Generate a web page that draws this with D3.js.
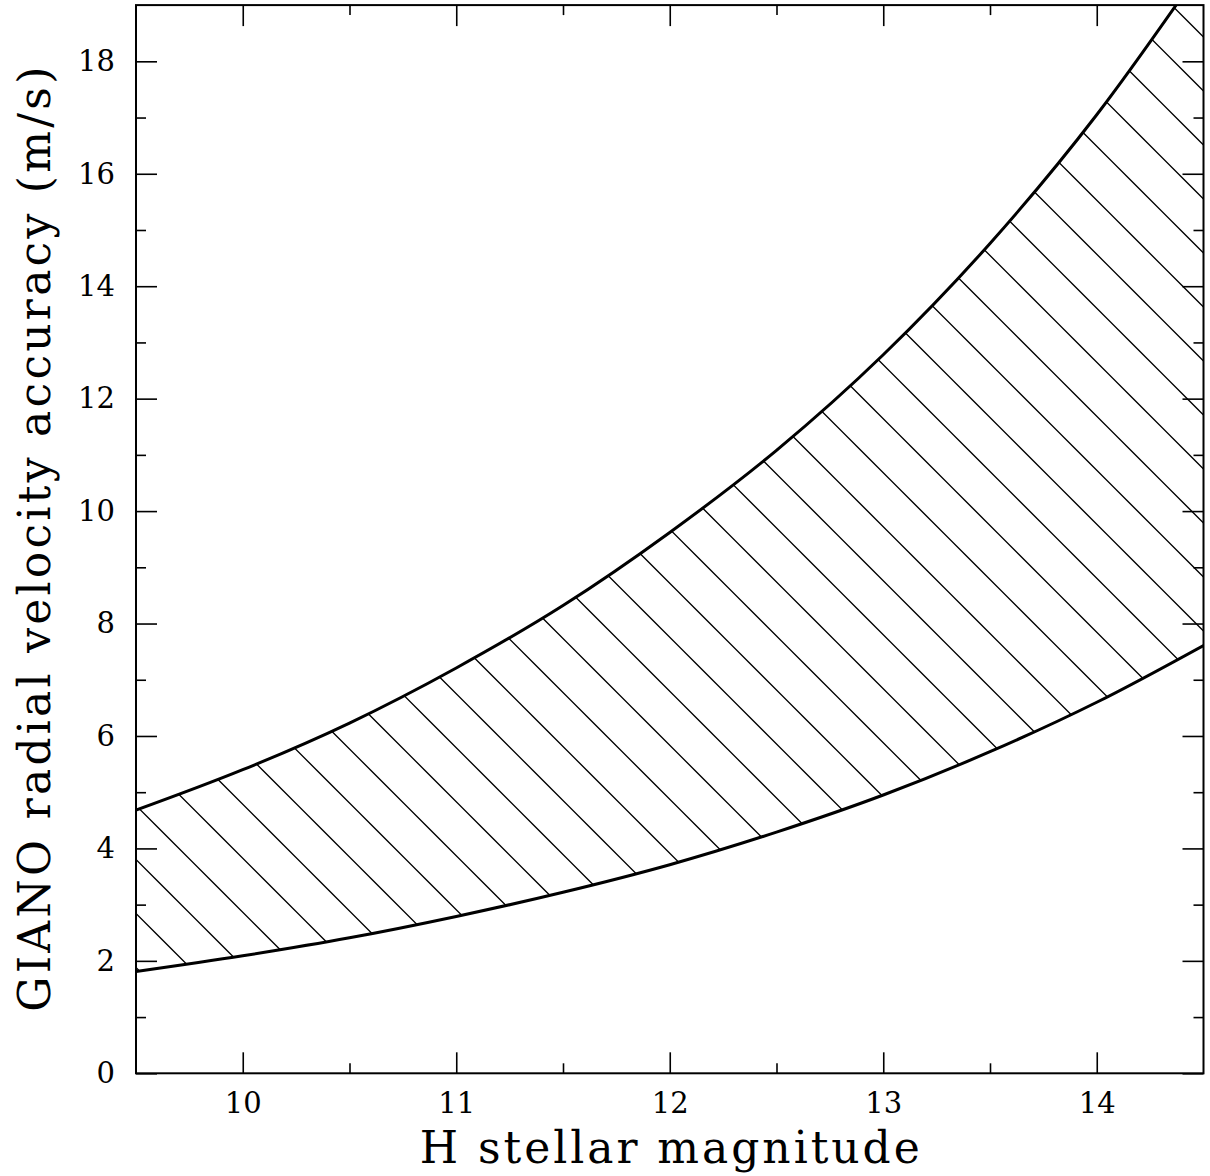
<!DOCTYPE html>
<html>
<head>
<meta charset="utf-8">
<script src="https://cdn.jsdelivr.net/npm/d3@7"></script>
<style>
  body { margin: 0; background: #fff; }
  svg { display: block; }
  text { font-family: "DejaVu Serif", serif; fill: #000; }
</style>
</head>
<body>
<svg id="vis" width="1210" height="1176"></svg>
<script>
// H magnitude sample points and the two accuracy limits (m/s)
const magnitudes = [9.5, 10, 10.5, 11, 11.5, 12, 12.5, 13, 13.5, 14, 14.5]
const upperAccuracy = [4.68, 5.40, 6.23, 7.21, 8.32, 9.62, 11.08, 12.78, 14.76, 17.05, 19.7]
const lowerAccuracy = [1.81, 2.09, 2.41, 2.79, 3.22, 3.71, 4.29, 4.95, 5.72, 6.60, 7.61]

const xMajorTicks = [10, 11, 12, 13, 14]
const xMinorTicks = [10.5, 11.5, 12.5, 13.5]
const yMajorTicks = [0, 2, 4, 6, 8, 10, 12, 14, 16, 18]
const yMinorTicks = [1, 3, 5, 7, 9, 11, 13, 15, 17]

const xTitle = 'H stellar magnitude'
const yTitle = 'GIANO radial velocity accuracy (m/s)'

const plot = {left: 136, right: 1203.5, top: 5.1, bottom: 1073.3}

const svg = d3.select('#vis')

const x = d3.scaleLinear().domain([9.5, 14.5]).range([plot.left, plot.right])
const y = d3.scaleLinear().domain([0, 19]).range([plot.bottom, plot.top])

const band = magnitudes.map((m, i) => ({m: m, lo: lowerAccuracy[i], hi: upperAccuracy[i]}))

const defs = svg.append('defs')

// clip everything to the frame
defs.append('clipPath')
    .attr('id', 'plotClip')
  .append('rect')
    .attr('x', plot.left)
    .attr('y', plot.top)
    .attr('width', plot.right - plot.left)
    .attr('height', plot.bottom - plot.top)

// 45 degree hatching, 54px apart
const hatch = defs.append('pattern')
    .attr('id', 'hatch')
    .attr('patternUnits', 'userSpaceOnUse')
    .attr('x', 0)
    .attr('y', 0)
    .attr('width', 54)
    .attr('height', 54)
hatch.append('path')
    .attr('d', 'M-6,15.5 L38.5,60 M26.5,-6 L60,27.5')
    .attr('stroke', '#000')
    .attr('stroke-width', 1.3)
    .attr('fill', 'none')

const chart = svg.append('g').attr('clip-path', 'url(#plotClip)')

const area = d3.area()
    .x(d => x(d.m))
    .y0(d => y(d.lo))
    .y1(d => y(d.hi))
    .curve(d3.curveMonotoneX)

chart.append('path')
    .datum(band)
    .attr('d', area)
    .attr('fill', 'url(#hatch)')

const upperLine = d3.line().x(d => x(d.m)).y(d => y(d.hi)).curve(d3.curveMonotoneX)
const lowerLine = d3.line().x(d => x(d.m)).y(d => y(d.lo)).curve(d3.curveMonotoneX)

chart.append('path')
    .datum(band)
    .attr('d', upperLine)
    .attr('fill', 'none')
    .attr('stroke', '#000')
    .attr('stroke-width', 3)

chart.append('path')
    .datum(band)
    .attr('d', lowerLine)
    .attr('fill', 'none')
    .attr('stroke', '#000')
    .attr('stroke-width', 3)

//axes: ticks point inwards on all four sides
function drawAxis(axis, transform, labels){
    const g = svg.append('g')
        .attr('transform', transform)
        .call(axis)
    g.select('.domain').remove()
    g.selectAll('line').attr('stroke', '#000').attr('stroke-width', 1.6)
    if(!labels){
        g.selectAll('text').remove()
    }else{
        g.selectAll('text').style('font-size', '29px').attr('fill', '#000')
    }
    return g
}

drawAxis(d3.axisBottom(x).tickValues(xMajorTicks).tickSize(-21).tickPadding(19).tickFormat(d3.format('d')),
    `translate(0,${plot.bottom})`, true)
drawAxis(d3.axisBottom(x).tickValues(xMinorTicks).tickSize(-10),
    `translate(0,${plot.bottom})`, false)
drawAxis(d3.axisTop(x).tickValues(xMajorTicks).tickSize(-21),
    `translate(0,${plot.top})`, false)
drawAxis(d3.axisTop(x).tickValues(xMinorTicks).tickSize(-10),
    `translate(0,${plot.top})`, false)

drawAxis(d3.axisLeft(y).tickValues(yMajorTicks).tickSize(-21).tickPadding(21).tickFormat(d3.format('d')),
    `translate(${plot.left},0)`, true)
drawAxis(d3.axisLeft(y).tickValues(yMinorTicks).tickSize(-10),
    `translate(${plot.left},0)`, false)
drawAxis(d3.axisRight(y).tickValues(yMajorTicks).tickSize(-21),
    `translate(${plot.right},0)`, false)
drawAxis(d3.axisRight(y).tickValues(yMinorTicks).tickSize(-10),
    `translate(${plot.right},0)`, false)

// frame
svg.append('rect')
    .attr('x', plot.left)
    .attr('y', plot.top)
    .attr('width', plot.right - plot.left)
    .attr('height', plot.bottom - plot.top)
    .attr('fill', 'none')
    .attr('stroke', '#000')
    .attr('stroke-width', 2)

// titles
svg.append('text')
    .attr('x', (plot.left + plot.right) / 2)
    .attr('y', 1163)
    .attr('text-anchor', 'middle')
    .attr('textLength', 500)
    .attr('lengthAdjust', 'spacing')
    .style('font-size', '44px')
    .text(xTitle)

svg.append('text')
    .attr('transform', `translate(50,${(plot.top + plot.bottom) / 2}) rotate(-90)`)
    .attr('text-anchor', 'middle')
    .attr('textLength', 945)
    .attr('lengthAdjust', 'spacing')
    .style('font-size', '44px')
    .text(yTitle)
</script>
</body>
</html>
